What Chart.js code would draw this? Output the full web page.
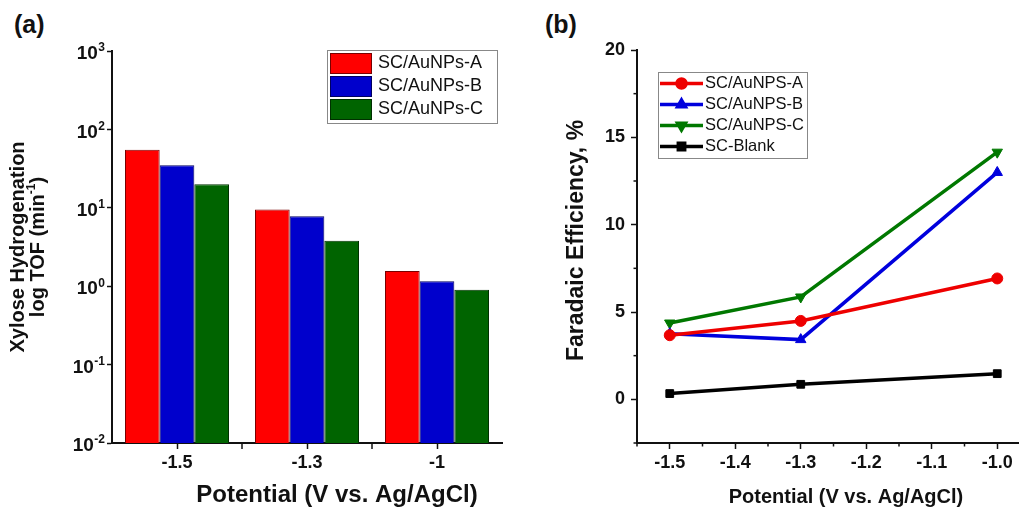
<!DOCTYPE html>
<html>
<head>
<meta charset="utf-8">
<title>TOF and Faradaic efficiency</title>
<script src="https://cdn.jsdelivr.net/npm/chart.js@4.4.0/dist/chart.umd.min.js"></script>
<style>
  html, body { margin: 0; padding: 0; background: #fff; }
  body { width: 1019px; height: 509px; overflow: hidden; position: relative; font-family: "Liberation Sans", Arial, sans-serif; }
  .panel { position: absolute; top: 0; }
  .tag { position: absolute; top: 10px; font-weight: bold; font-size: 25px; color: #111; }
</style>
</head>
<body>
<div class="tag" style="left:14px">(a)</div>
<div class="tag" style="left:545px">(b)</div>
<div class="panel" style="left:0"><canvas id="chartA" width="510" height="509"></canvas></div>
<div class="panel" style="left:510px"><canvas id="chartB" width="530" height="509"></canvas></div>
<script>
// panel (a): TOF per potential, log scale
const potentials = ['-1.5', '-1.3', '-1'];
const barLabels = ['SC/AuNPs-A', 'SC/AuNPs-B', 'SC/AuNPs-C'];
const tofA = [55, 9.5, 1.56];
const tofB = [35, 7.8, 1.16];
const tofC = [20, 3.8, 0.90];
const logTicks = [0.01, 0.1, 1, 10, 100, 1000];

// panel (b): faradaic efficiency
const potentialsB = [-1.5, -1.3, -1.0];
const lineLabels = ['SC/AuNPS-A', 'SC/AuNPS-B', 'SC/AuNPS-C', 'SC-Blank'];
const feA = [3.67, 4.49, 6.92];
const feB = [3.76, 3.42, 12.99];
const feC = [4.37, 5.86, 14.15];
const feBlank = [0.33, 0.86, 1.47];

const FONT = '"Liberation Sans", Arial, sans-serif';
Chart.defaults.font.family = FONT;
Chart.defaults.color = '#111';
Chart.defaults.animation = false;

const INK = '#111';
const isMult = (v, step) => Math.abs(v / step - Math.round(v / step)) < 1e-6;

// axis titles drawn at set spots around the plot area
const axisTitles = {
  id: 'axisTitles',
  afterDraw(chart, args, opts) {
    const ctx = chart.ctx, area = chart.chartArea;
    ctx.save();
    ctx.fillStyle = INK;
    ctx.textBaseline = 'middle';
    (opts.items || []).forEach(t => {
      ctx.save();
      ctx.translate(t.x(area), t.y(area));
      if (t.vertical) ctx.rotate(-Math.PI / 2);
      t.lines.forEach((line, i) => {
        // a line is a list of [text, superscript?] runs
        const runs = Array.isArray(line) ? line : [[line, false]];
        const supFont = 'bold ' + Math.round(t.size * 0.62) + 'px ' + FONT;
        const mainFont = 'bold ' + t.size + 'px ' + FONT;
        let total = 0;
        runs.forEach(([s, up]) => { ctx.font = up ? supFont : mainFont; total += ctx.measureText(s).width; });
        let cx = -total / 2;
        const cy = i * (t.lineHeight || 0);
        ctx.textAlign = 'left';
        runs.forEach(([s, up]) => {
          ctx.font = up ? supFont : mainFont;
          ctx.fillText(s, cx, up ? cy - t.size * 0.32 : cy);
          cx += ctx.measureText(s).width;
        });
      });
      ctx.restore();
    });
    ctx.restore();
  }
};

// framed legend inside the plot area
const boxLegend = {
  id: 'boxLegend',
  afterDraw(chart, args, o) {
    const ctx = chart.ctx, area = chart.chartArea;
    const sets = chart.data.datasets;
    const x0 = o.fromRight != null ? area.right - o.fromRight - o.width : area.left + o.fromLeft;
    const y0 = area.top + o.top;
    const h = o.pad * 2 + sets.length * o.rowHeight;
    ctx.save();
    ctx.fillStyle = '#fff';
    ctx.fillRect(x0, y0, o.width, h);
    ctx.strokeStyle = '#888';
    ctx.lineWidth = 1;
    ctx.strokeRect(Math.round(x0) + 0.5, Math.round(y0) + 0.5, o.width, h);
    ctx.font = o.font;
    ctx.textBaseline = 'middle';
    ctx.textAlign = 'left';
    sets.forEach((ds, i) => {
      const cy = y0 + o.pad + o.rowHeight * (i + 0.5);
      const sx = x0 + o.inset;
      if (o.kind === 'bar') {
        ctx.fillStyle = ds.backgroundColor;
        ctx.fillRect(sx, cy - o.rowHeight / 2 + 1, o.sample, o.rowHeight - 2);
        ctx.strokeStyle = ds.borderColor;
        ctx.lineWidth = 1;
        ctx.strokeRect(sx + 0.5, cy - o.rowHeight / 2 + 1.5, o.sample - 1, o.rowHeight - 3);
      } else {
        ctx.strokeStyle = ds.borderColor;
        ctx.fillStyle = ds.borderColor;
        ctx.lineWidth = 3.5;
        ctx.beginPath();
        ctx.moveTo(sx, cy);
        ctx.lineTo(sx + o.sample, cy);
        ctx.stroke();
        Chart.helpers.drawPoint(ctx, {
          pointStyle: ds.pointStyle, rotation: ds.pointRotation || 0,
          radius: 4.5, borderWidth: 1
        }, sx + o.sample / 2, cy);
      }
      ctx.fillStyle = INK;
      ctx.fillText(ds.label, sx + o.sample + o.gap, cy);
    });
    ctx.restore();
  }
};

function drawTick(ctx, x1, y1, x2, y2) {
  ctx.beginPath();
  ctx.moveTo(x1, y1);
  ctx.lineTo(x2, y2);
  ctx.stroke();
}

// ---------- panel (a) ----------
const boundaryTicks = {
  id: 'boundaryTicks',
  afterDraw(chart) {
    const x = chart.scales.x, ctx = chart.ctx;
    const n = potentials.length, w = (x.right - x.left) / n;
    ctx.save();
    ctx.strokeStyle = INK;
    ctx.lineWidth = 1.5;
    for (let i = 1; i < n; i++) {
      drawTick(ctx, x.left + i * w, x.top, x.left + i * w, x.top + 6);
    }
    ctx.restore();
  }
};

// power-of-ten labels with a raised exponent
const powerLabels = {
  id: 'powerLabels',
  afterDraw(chart) {
    const y = chart.scales.y, ctx = chart.ctx;
    ctx.save();
    ctx.fillStyle = INK;
    ctx.textBaseline = 'middle';
    ctx.textAlign = 'right';
    logTicks.forEach(v => {
      const py = y.getPixelForValue(v);
      const exp = String(Math.round(Math.log10(v)));
      const right = y.right - 7;
      ctx.font = 'bold 12px ' + FONT;
      const ew = ctx.measureText(exp).width;
      ctx.fillText(exp, right, py - 3);
      ctx.font = 'bold 19px ' + FONT;
      ctx.fillText('10', right - ew - 0.5, py + 3);
    });
    ctx.restore();
  }
};

new Chart(document.getElementById('chartA'), {
  type: 'bar',
  data: {
    labels: potentials,
    datasets: [
      { label: barLabels[0], data: tofA, backgroundColor: '#ff0000', borderColor: '#7a0000' },
      { label: barLabels[1], data: tofB, backgroundColor: '#0000cc', borderColor: '#000060' },
      { label: barLabels[2], data: tofC, backgroundColor: '#006400', borderColor: '#003000' }
    ]
  },
  options: {
    responsive: false,
    devicePixelRatio: 1,
    layout: { padding: { left: 0, top: 51, right: 8, bottom: 0 } },
    datasets: { bar: { categoryPercentage: 0.8, barPercentage: 1, borderWidth: 1 } },
    plugins: {
      legend: { display: false },
      tooltip: { enabled: false },
      axisTitles: {
        items: [
          { lines: ['Xylose Hydrogenation', [['log TOF (min', false], ['-1', true], [')', false]]],
            vertical: true, size: 20, lineHeight: 20,
            x: a => 18, y: a => (a.top + a.bottom) / 2 },
          { lines: ['Potential (V vs. Ag/AgCl)'], size: 24,
            x: a => (a.left + a.right) / 2 + 30, y: a => a.bottom + 52 }
        ]
      },
      boxLegend: {
        kind: 'bar', fromRight: 5, top: -1, width: 170, pad: 2, rowHeight: 23,
        inset: 3, sample: 42, gap: 6, font: '18px ' + FONT
      }
    },
    scales: {
      x: {
        afterFit: s => { s.height = 66; },
        grid: { offset: false, drawOnChartArea: false, tickLength: 6, tickWidth: 1.5, tickColor: INK },
        border: { display: true, width: 2, color: INK },
        ticks: { font: { size: 18, weight: 'bold' }, padding: 3, color: INK }
      },
      y: {
        type: 'logarithmic',
        min: 0.01,
        max: 1000,
        afterFit: s => { s.width = 112; },
        afterBuildTicks: s => { s.ticks = logTicks.map(v => ({ value: v })); },
        grid: { drawOnChartArea: false, tickLength: 5, tickWidth: 1.5, tickColor: INK },
        border: { display: true, width: 2, color: INK },
        ticks: { display: false }
      }
    }
  },
  plugins: [axisTitles, boxLegend, boundaryTicks, powerLabels]
});

// ---------- panel (b) ----------
const minorTicks = {
  id: 'minorTicks',
  afterDraw(chart) {
    const ctx = chart.ctx, x = chart.scales.x, y = chart.scales.y;
    ctx.save();
    ctx.strokeStyle = INK;
    ctx.lineWidth = 1.5;
    x.ticks.forEach(t => {
      if (!isMult(t.value, 0.1)) {
        const px = x.getPixelForValue(t.value);
        drawTick(ctx, px, x.top, px, x.top + 3.5);
      }
    });
    y.ticks.forEach(t => {
      if (!isMult(t.value, 5)) {
        const py = y.getPixelForValue(t.value);
        drawTick(ctx, y.right, py, y.right - 3.5, py);
      }
    });
    ctx.restore();
  }
};

const toPoints = vals => vals.map((v, i) => ({ x: potentialsB[i], y: v }));
const lineSet = (label, vals, color, style, rot, r) => ({
  label, data: toPoints(vals), borderColor: color, backgroundColor: color,
  pointBackgroundColor: color, pointBorderColor: color,
  pointStyle: style, pointRotation: rot, pointRadius: r, pointBorderWidth: 1,
  borderWidth: 3.5, tension: 0
});

new Chart(document.getElementById('chartB'), {
  type: 'line',
  data: {
    datasets: [
      lineSet(lineLabels[0], feA, '#ee0000', 'circle', 0, 5.5),
      lineSet(lineLabels[1], feB, '#0000dd', 'triangle', 0, 6),
      lineSet(lineLabels[2], feC, '#007800', 'triangle', 180, 6),
      lineSet(lineLabels[3], feBlank, '#000000', 'rect', 0, 5.5)
    ]
  },
  options: {
    responsive: false,
    devicePixelRatio: 1,
    layout: { padding: { left: 0, top: 50, right: 10, bottom: 0 } },
    plugins: {
      legend: { display: false },
      tooltip: { enabled: false },
      axisTitles: {
        items: [
          { lines: ['Faradaic Efficiency, %'], vertical: true, size: 23,
            x: a => 67, y: a => (a.top + a.bottom) / 2 - 6 },
          { lines: ['Potential (V vs. Ag/AgCl)'], size: 20,
            x: a => 336, y: a => a.bottom + 54 }
        ]
      },
      boxLegend: {
        kind: 'line', fromLeft: 21, top: 22, width: 149, pad: 1, rowHeight: 21,
        inset: 2, sample: 43, gap: 2, font: '16.5px ' + FONT
      }
    },
    scales: {
      x: {
        type: 'linear',
        min: -1.55,
        max: -0.95,
        afterFit: s => { s.height = 66; },
        grid: {
          drawOnChartArea: false, tickLength: 6, tickWidth: 1.5,
          tickColor: c => isMult(c.tick.value, 0.1) ? INK : 'rgba(0,0,0,0)'
        },
        border: { display: true, width: 2, color: INK },
        ticks: {
          stepSize: 0.05, autoSkip: false, maxRotation: 0, padding: 3,
          font: { size: 18, weight: 'bold' }, color: INK,
          callback: v => isMult(v, 0.1) ? v.toFixed(1) : ''
        }
      },
      y: {
        min: -2.5,
        max: 20,
        afterFit: s => { s.width = 127; },
        grid: {
          drawOnChartArea: false, tickLength: 6, tickWidth: 1.5,
          tickColor: c => isMult(c.tick.value, 5) ? INK : 'rgba(0,0,0,0)'
        },
        border: { display: true, width: 2, color: INK },
        ticks: {
          stepSize: 2.5, autoSkip: false, padding: 6,
          font: { size: 18, weight: 'bold' }, color: INK,
          callback: v => isMult(v, 5) ? String(Math.round(v)) : ''
        }
      }
    }
  },
  plugins: [axisTitles, boxLegend, minorTicks]
});
</script>
</body>
</html>
